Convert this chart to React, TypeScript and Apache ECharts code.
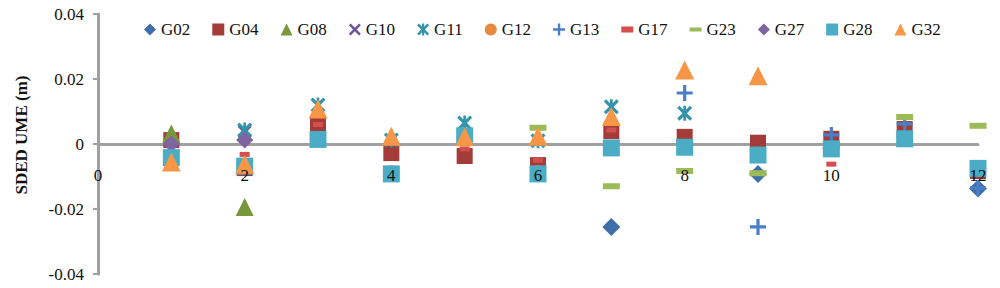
import React, { useEffect, useRef } from "react";
import * as echarts from "echarts";

const xValues = [1, 2, 3, 4, 5, 6, 7, 8, 9, 10, 11, 12];
const seriesNames = ["G02", "G04", "G08", "G10", "G11", "G12", "G13", "G17", "G23", "G27", "G28", "G32"];

const g02 = [null, null, null, null, null, null, -0.0255, null, -0.0092, -0.0013, null, -0.0137];
const g04 = [0.0012, -0.0074, 0.006, -0.0028, -0.0037, -0.0065, 0.004, 0.0022, 0.0004, 0.0016, 0.0046, -0.0083];
const g08 = [0.0032, -0.0194, null, null, null, null, null, null, null, null, null, null];
const g10 = [null, 0.0038, null, null, null, null, null, null, null, null, null, null];
const g11 = [null, 0.0043, 0.012, 0.0012, 0.0065, 0.001, 0.0115, 0.0095, null, null, null, null];
const g12 = [-0.004, null, null, -0.009, null, -0.009, null, null, null, null, null, null];
const g13 = [null, null, null, null, null, null, null, 0.0157, -0.0255, 0.0028, 0.0062, -0.0135];
const g17 = [null, -0.0032, 0.006, null, -0.0015, -0.005, 0.0043, null, null, -0.0062, null, -0.0082];
const g23 = [null, null, null, null, null, 0.005, -0.013, -0.0083, -0.009, null, 0.0083, 0.0056];
const g27 = [0, 0.0012, null, null, null, null, null, null, null, null, null, null];
const g28 = [-0.0042, -0.0068, 0.0014, -0.0092, 0.0025, -0.0092, -0.0012, -0.001, -0.0034, -0.0015, 0.0016, -0.0075];
const g32 = [-0.0055, -0.0062, 0.0108, 0.0024, 0.0022, 0.0024, 0.0085, 0.0228, 0.021, null, null, null];

const yTicks = { min: -0.04, max: 0.04, interval: 0.02 };
const xTicks = { min: 0, max: 12, interval: 2 };

const X_PATH = "path://M15,0 L50,35 L85,0 L100,15 L65,50 L100,85 L85,100 L50,65 L15,100 L0,85 L35,50 L0,15 Z";
const STAR_PATH = "path://M15,0 L50,35 L85,0 L100,15 L65,50 L100,85 L85,100 L50,65 L15,100 L0,85 L35,50 L0,15 Z M41,0 L59,0 L59,100 L41,100 Z";
const PLUS_PATH = "path://M40,0 H60 V40 H100 V60 H60 V100 H40 V60 H0 V40 H40 Z";
const DASH_PATH = "path://M0,0 H30 V10 H0 Z";
const SHORT_DASH_PATH = "path://M0,0 H20 V10 H0 Z";

const styles: Record<string, { color: string; symbol: string; size: any; legendIcon: string }> = {
  G02: { color: "#3F6FA8", symbol: "diamond", size: 18, legendIcon: "diamond" },
  G04: { color: "#A33B38", symbol: "rect", size: 16, legendIcon: "rect" },
  G08: { color: "#77973D", symbol: "triangle", size: 18, legendIcon: "triangle" },
  G10: { color: "#6E5396", symbol: X_PATH, size: 14, legendIcon: X_PATH },
  G11: { color: "#3394AC", symbol: STAR_PATH, size: 15, legendIcon: STAR_PATH },
  G12: { color: "#E58A3F", symbol: "circle", size: 16, legendIcon: "circle" },
  G13: { color: "#4A7EC7", symbol: PLUS_PATH, size: 16, legendIcon: PLUS_PATH },
  G17: { color: "#D24F4D", symbol: "rect", size: [10, 5], legendIcon: SHORT_DASH_PATH },
  G23: { color: "#9BBB59", symbol: "rect", size: [17, 6], legendIcon: DASH_PATH },
  G27: { color: "#8064A2", symbol: "diamond", size: 17, legendIcon: "diamond" },
  G28: { color: "#4BACC6", symbol: "rect", size: 17, legendIcon: "rect" },
  G32: { color: "#F79646", symbol: "triangle", size: 19, legendIcon: "triangle" },
};

const seriesValues = [g02, g04, g08, g10, g11, g12, g13, g17, g23, g27, g28, g32];

const FONT = "Liberation Serif";

const GRID_TOP = 14;
const GRID_BOTTOM = 14;
const CHART_H = 288;

export default function App() {
  const ref = useRef<HTMLDivElement>(null);
  useEffect(() => {
    if (!ref.current) return;
    const chart = echarts.init(ref.current, null, { renderer: "svg" });
    const series = seriesNames.map((name, i) => {
      const st = styles[name];
      return {
        name,
        type: "scatter",
        xAxisIndex: 0,
        symbol: st.symbol,
        symbolSize: st.size,
        itemStyle: { color: st.color, opacity: 1 },
        data: xValues
          .map((x, j) => [x, seriesValues[i][j]])
          .filter((d) => d[1] !== null),
      };
    });
    // move the x axis (line and labels) up to the y = 0 level
    const plotH = CHART_H - GRID_TOP - GRID_BOTTOM;
    const zeroFromBottom = (plotH * (0 - yTicks.min)) / (yTicks.max - yTicks.min);
    const xBase = {
      type: "value",
      min: xTicks.min,
      max: xTicks.max,
      interval: xTicks.interval,
      position: "bottom",
      offset: -zeroFromBottom,
      axisTick: { show: false },
      splitLine: { show: false },
    };
    chart.setOption({
      animation: false,
      backgroundColor: "#ffffff",
      textStyle: { fontFamily: FONT },
      grid: { left: 98, right: 22, top: GRID_TOP, bottom: GRID_BOTTOM, containLabel: false, outerBoundsMode: "none" },
      legend: {
        left: 139,
        top: 16,
        itemWidth: 12,
        itemHeight: 12,
        itemGap: 22,
        textStyle: { fontFamily: FONT, fontSize: 17, color: "#111" },
        data: seriesNames.map((n) => ({ name: n, icon: styles[n].legendIcon, itemStyle: { color: styles[n].color } })),
      },
      xAxis: [
        {
          ...xBase,
          z: 0,
          axisLine: { onZero: false, lineStyle: { color: "#A0A0A0", width: 3 } },
          axisLabel: { show: false },
        },
        {
          ...xBase,
          z: 10,
          axisLine: { show: false, onZero: false },
          axisLabel: { margin: 23, fontSize: 17, color: "#111", fontFamily: FONT },
        },
      ],
      yAxis: {
        type: "value",
        min: yTicks.min,
        max: yTicks.max,
        interval: yTicks.interval,
        name: "SDED UME (m)",
        nameLocation: "middle",
        nameGap: 68,
        nameTextStyle: { fontFamily: FONT, fontSize: 17, fontWeight: "bold", color: "#111", padding: [0, 0, 0, 18] },
        axisLine: { show: true, onZero: false, lineStyle: { color: "#A0A0A0", width: 3 } },
        axisTick: { show: true, inside: false, length: 5, lineStyle: { color: "#A0A0A0", width: 2 } },
        splitLine: { show: false },
        axisLabel: { margin: 14, fontSize: 17, color: "#111", fontFamily: FONT },
      },
      series,
    });
    return () => chart.dispose();
  }, []);
  return <div ref={ref} style={{ position: "fixed", left: 0, top: 0, width: 1000, height: 288 }} />;
}
